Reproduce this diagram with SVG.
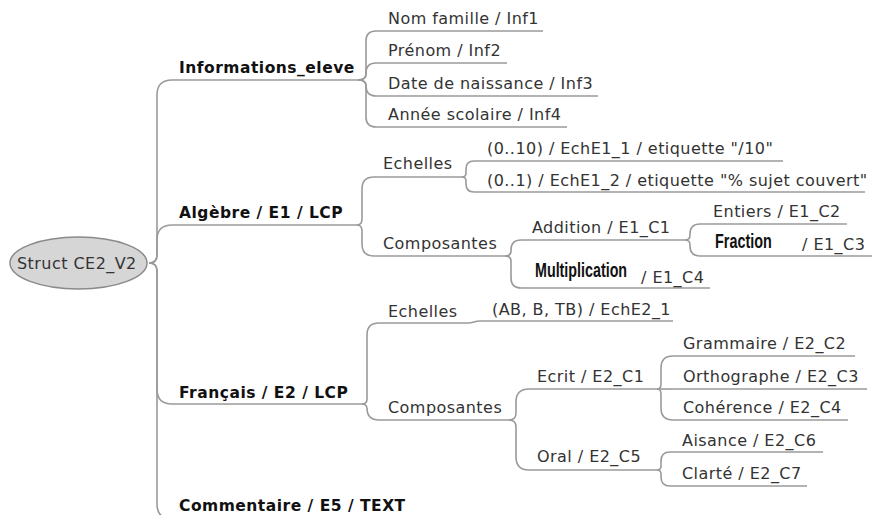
<svg xmlns="http://www.w3.org/2000/svg" width="874" height="515" viewBox="0 0 874 515">
<style>
.t{font-family:"DejaVu Sans",sans-serif;font-size:16px;letter-spacing:0.45px;fill:#333}
.b{font-family:"DejaVu Sans",sans-serif;font-size:15.5px;font-weight:bold;letter-spacing:0.5px;fill:#111}
.c{font-family:"Liberation Sans",sans-serif;font-size:20px;font-weight:bold;fill:#111}
.u{stroke:#9a9a9a;stroke-width:1.6;fill:none}
.k path{stroke:#9a9a9a;stroke-width:1.6;fill:none}
</style>
<rect width="874" height="515" fill="#fff"/>
<g id="connectors" class="k">
<path d="M149,263 Q157,263 157,255 L157,95 Q157,80 172,80"/>
<path d="M149,263 Q157,263 157,255 L157,240 Q157,225 172,225"/>
<path d="M149,263 Q157,263 157,271 L157,389 Q157,404 172,404"/>
<path d="M149,263 Q157,263 157,271 L157,504 Q157,519 172,519"/>
<path d="M358,80 Q366,80 366,74 L366,41 Q366,31 376,31"/>
<path d="M358,80 Q366,80 366,74 L366,73 Q366,63 376,63"/>
<path d="M358,80 Q366,80 366,85 L366,86 Q366,96 376,96"/>
<path d="M358,80 Q366,80 366,86 L366,117 Q366,127 376,127"/>
<path d="M357,225 Q362,225 362,219 L362,189 Q362,177 374,177"/>
<path d="M357,225 Q362,225 362,231 L362,244 Q362,256 374,256"/>
<path d="M462,177 Q466,177 466,173 L466,169 Q466,161 474,161"/>
<path d="M462,177 Q466,177 466,181 L466,184 Q466,192 474,192"/>
<path d="M505,256 Q511,256 511,251 L511,250 Q511,240 521,240"/>
<path d="M505,256 Q511,256 511,261 L511,278 Q511,288 521,288"/>
<path d="M685,240 Q690,240 690,235 L690,234 Q690,224 700,224"/>
<path d="M685,240 Q690,240 690,245 L690,246 Q690,256 700,256"/>
<path d="M362,404 Q367,404 367,399 L367,335 Q367,323 379,323"/>
<path d="M362,404 Q367,404 367,409 L367,408 Q367,420 379,420"/>
<path d="M468,323 C474,323 474,321 480,321"/>
<path d="M509,420 Q516,420 516,413 L516,402 Q516,389 529,389"/>
<path d="M509,420 Q516,420 516,427 L516,457 Q516,470 529,470"/>
<path d="M657,389 Q661,389 661,384 L661,368 Q661,356 673,356"/>
<path d="M657,389 L673,389"/>
<path d="M657,389 Q661,389 661,394 L661,408 Q661,420 673,420"/>
<path d="M657,470 Q661,470 661,466 L661,461 Q661,452 670,452"/>
<path d="M657,470 Q661,470 661,474 L661,477 Q661,486 670,486"/>
</g>
<g id="root">
<ellipse cx="78.5" cy="263" rx="68.5" ry="26" fill="#d6d6d6" stroke="#8a8a8a" stroke-width="1.5"/>
<text class="t" x="17" y="269">Struct CE2_V2</text>
</g>
<g id="informations"><path class="u" d="M172,80 L358,80"/><text class="b" x="179" y="73">Informations_eleve</text></g>
<g id="inf1"><path class="u" d="M376,31 L543,31"/><text class="t" x="388" y="24">Nom famille / Inf1</text></g>
<g id="inf2"><path class="u" d="M376,63 L507,63"/><text class="t" x="388" y="56">Prénom / Inf2</text></g>
<g id="inf3"><path class="u" d="M376,96 L598,96"/><text class="t" x="388" y="89">Date de naissance / Inf3</text></g>
<g id="inf4"><path class="u" d="M376,127 L567,127"/><text class="t" x="388" y="120">Année scolaire / Inf4</text></g>
<g id="algebre"><path class="u" d="M172,225 L357,225"/><text class="b" x="179" y="218">Algèbre / E1 / LCP</text></g>
<g id="alg-echelles"><path class="u" d="M374,177 L462,177"/><text class="t" x="383" y="169">Echelles</text></g>
<g id="ech1"><path class="u" d="M474,161 L783,161"/><text class="t" x="487" y="154">(0..10) / EchE1_1 / etiquette "/10"</text></g>
<g id="ech2"><path class="u" d="M474,192 L865,192"/><text class="t" x="487" y="186">(0..1) / EchE1_2 / etiquette "% sujet couvert"</text></g>
<g id="alg-composantes"><path class="u" d="M374,256 L505,256"/><text class="t" x="383" y="249">Composantes</text></g>
<g id="addition"><path class="u" d="M521,240 L685,240"/><text class="t" x="532" y="233">Addition / E1_C1</text></g>
<g id="entiers"><path class="u" d="M700,224 L847,224"/><text class="t" x="713" y="217">Entiers / E1_C2</text></g>
<g id="fraction"><path class="u" d="M700,256 L872,256"/><text class="c" transform="translate(715,248) scale(0.72,1)">Fraction</text><text class="t" x="802" y="250">/ E1_C3</text></g>
<g id="multiplication"><path class="u" d="M521,288 L710,288"/><text class="c" transform="translate(535,277) scale(0.715,1)">Multiplication</text><text class="t" x="641" y="283">/ E1_C4</text></g>
<g id="francais"><path class="u" d="M172,404 L362,404"/><text class="b" x="179" y="398">Français / E2 / LCP</text></g>
<g id="fr-echelles"><path class="u" d="M379,323 L468,323"/><text class="t" x="388" y="317">Echelles</text></g>
<g id="ech-e2"><path class="u" d="M480,321 L673,321"/><text class="t" x="492" y="315">(AB, B, TB) / EchE2_1</text></g>
<g id="fr-composantes"><path class="u" d="M379,420 L509,420"/><text class="t" x="388" y="413">Composantes</text></g>
<g id="ecrit"><path class="u" d="M529,389 L657,389"/><text class="t" x="537" y="382">Ecrit / E2_C1</text></g>
<g id="grammaire"><path class="u" d="M673,356 L855,356"/><text class="t" x="683" y="349">Grammaire / E2_C2</text></g>
<g id="orthographe"><path class="u" d="M673,389 L867,389"/><text class="t" x="683" y="382">Orthographe / E2_C3</text></g>
<g id="coherence"><path class="u" d="M673,420 L848,420"/><text class="t" x="683" y="413">Cohérence / E2_C4</text></g>
<g id="oral"><path class="u" d="M529,470 L657,470"/><text class="t" x="537" y="462">Oral / E2_C5</text></g>
<g id="aisance"><path class="u" d="M670,452 L823,452"/><text class="t" x="682" y="446">Aisance / E2_C6</text></g>
<g id="clarte"><path class="u" d="M670,486 L807,486"/><text class="t" x="682" y="479">Clarté / E2_C7</text></g>
<g id="commentaire"><path class="u" d="M172,519 L420,519"/><text class="b" x="179" y="511">Commentaire / E5 / TEXT</text></g>
</svg>
